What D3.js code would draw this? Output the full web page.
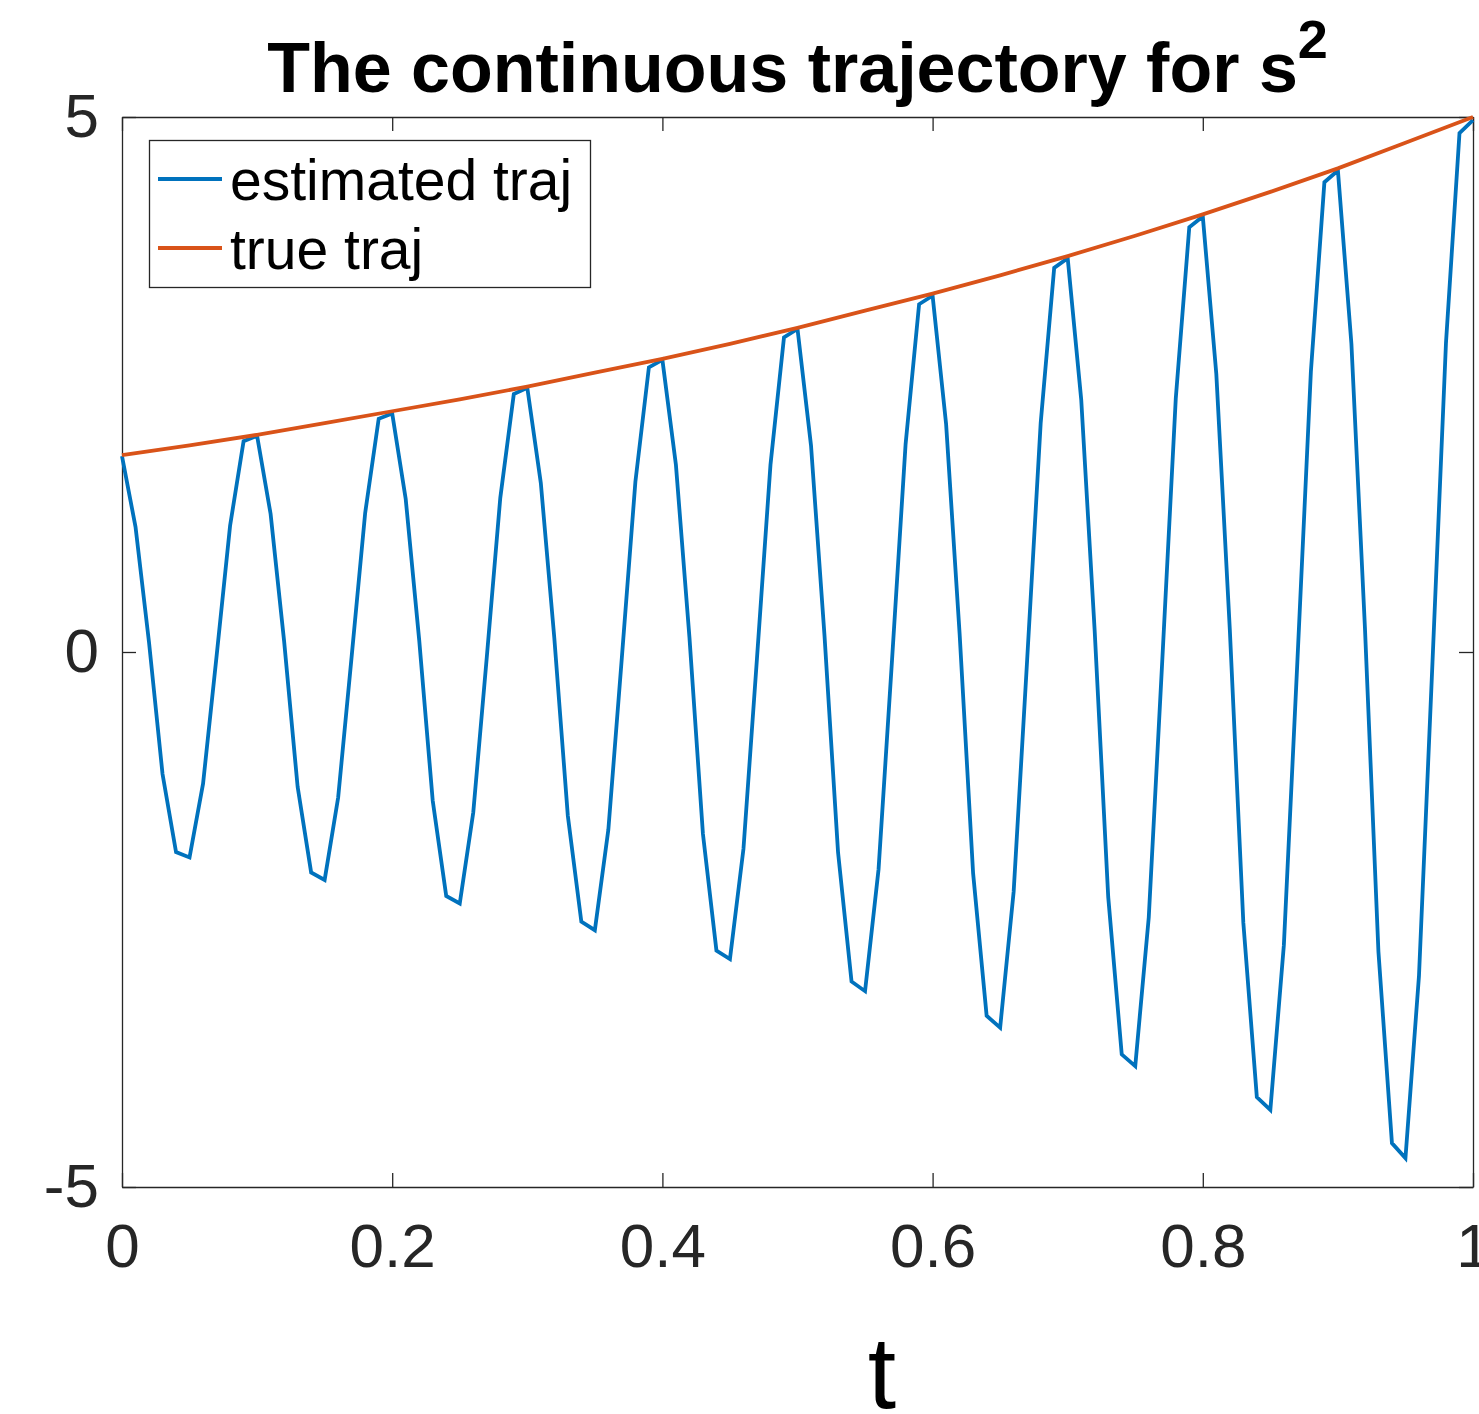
<!DOCTYPE html>
<html>
<head>
<meta charset="utf-8">
<script src="https://cdn.jsdelivr.net/npm/d3@7"></script>
<style>
  body { margin: 0; background: #fff; }
  svg { display: block; font-family: "Liberation Sans", Arial, Helvetica, sans-serif; }
</style>
</head>
<body>
<div class="canvas"></div>
<script>
// data
const tEst = d3.range(0, 101).map((i) => i / 100); // sample times, step 0.01
const estimated = [
  1.83, 1.17, 0.09, -1.14, -1.87, -1.92, -1.23, -0.04, 1.18, 1.97,
  2.02, 1.29, 0.10, -1.26, -2.06, -2.13, -1.36, -0.04, 1.30, 2.18,
  2.23, 1.43, 0.11, -1.39, -2.28, -2.35, -1.50, -0.05, 1.44, 2.41,
  2.47, 1.58, 0.13, -1.53, -2.52, -2.60, -1.66, -0.05, 1.59, 2.66,
  2.73, 1.75, 0.14, -1.70, -2.79, -2.87, -1.84, -0.06, 1.75, 2.94,
  3.02, 1.93, 0.15, -1.87, -3.08, -3.17, -2.03, -0.07, 1.94, 3.25,
  3.33, 2.13, 0.17, -2.07, -3.40, -3.51, -2.24, -0.07, 2.14, 3.59,
  3.68, 2.36, 0.19, -2.29, -3.76, -3.87, -2.48, -0.08, 2.37, 3.97,
  4.07, 2.60, 0.21, -2.53, -4.16, -4.28, -2.74, -0.09, 2.62, 4.39,
  4.50, 2.88, 0.23, -2.80, -4.59, -4.73, -3.03, -0.10, 2.89, 4.85,
  4.97
];
const tTrue = d3.range(0, 21).map((i) => i / 20); // step 0.05
const trueTraj = [
  1.84, 1.93, 2.03, 2.14, 2.25, 2.36, 2.48, 2.61, 2.74, 2.88,
  3.03, 3.19, 3.35, 3.52, 3.70, 3.89, 4.09, 4.30, 4.52, 4.76, 5.00
];
const xTicks = [0, 0.2, 0.4, 0.6, 0.8, 1];
const yTicks = [-5, 0, 5];
const legendNames = ["estimated traj", "true traj"];
const colours = ["#0072BD", "#D95319"];

const dims = { width: 1479, height: 1414 };
const plot = { left: 122, right: 1473, top: 117, bottom: 1187 };

const svg = d3
  .select(".canvas")
  .append("svg")
  .attr("width", dims.width)
  .attr("height", dims.height);

const x = d3.scaleLinear().domain([0, 1]).range([plot.left, plot.right]);
const y = d3.scaleLinear().domain([-5, 5]).range([plot.bottom, plot.top]);

const axisColour = "#262626";
const tickLen = 14;

// axes (ticks point inward, mirrored on top and right)
const styleAxis = (g) => {
  g.selectAll("path.domain").attr("stroke", axisColour).attr("stroke-width", 1.3);
  g.selectAll(".tick line").attr("stroke", axisColour).attr("stroke-width", 1.3);
  g.selectAll(".tick text")
    .attr("fill", axisColour)
    .attr("font-size", 62)
    .attr("font-family", "Liberation Sans, Arial, sans-serif");
};

svg.append("g")
  .attr("transform", `translate(0, ${plot.bottom})`)
  .call(d3.axisBottom(x).tickValues(xTicks).tickFormat(d3.format("")).tickSizeInner(-tickLen).tickSizeOuter(0).tickPadding(36))
  .call(styleAxis);

svg.append("g")
  .attr("transform", `translate(0, ${plot.top})`)
  .call(d3.axisTop(x).tickValues(xTicks).tickFormat("").tickSizeInner(-tickLen).tickSizeOuter(0))
  .call(styleAxis);

svg.append("g")
  .attr("transform", `translate(${plot.left}, 0)`)
  .call(d3.axisLeft(y).tickValues(yTicks).tickFormat(d3.format("")).tickSizeInner(-tickLen).tickSizeOuter(0).tickPadding(23))
  .call(styleAxis);

svg.append("g")
  .attr("transform", `translate(${plot.right}, 0)`)
  .call(d3.axisRight(y).tickValues(yTicks).tickFormat("").tickSizeInner(-tickLen).tickSizeOuter(0))
  .call(styleAxis);

// use a plain hyphen like the original for negative labels
svg.selectAll(".tick text").text(function () {
  return this.textContent.replace("\u2212", "-");
});

// lines
const line = d3.line().x((d) => x(d[0])).y((d) => y(d[1]));

svg.append("path")
  .datum(tEst.map((t, i) => [t, estimated[i]]))
  .attr("d", line)
  .attr("fill", "none")
  .attr("stroke", colours[0])
  .attr("stroke-width", 3.8)
  .attr("stroke-linejoin", "miter");

svg.append("path")
  .datum(tTrue.map((t, i) => [t, trueTraj[i]]))
  .attr("d", line)
  .attr("fill", "none")
  .attr("stroke", colours[1])
  .attr("stroke-width", 3.8);

// title
const title = svg.append("text")
  .attr("x", (plot.left + plot.right) / 2)
  .attr("y", 92)
  .attr("text-anchor", "middle")
  .attr("font-size", 70)
  .attr("font-weight", "bold")
  .attr("fill", "#000");
title.append("tspan").text("The continuous trajectory for s");
title.append("tspan").attr("font-size", 54).attr("dy", -34).text("2");

// x label
svg.append("text")
  .attr("x", 882)
  .attr("y", 1408)
  .attr("text-anchor", "middle")
  .attr("font-size", 102)
  .attr("fill", "#000")
  .text("t");

// legend
const legendGroup = svg.append("g");
legendGroup.append("rect")
  .attr("x", 149.5)
  .attr("y", 140.5)
  .attr("width", 441)
  .attr("height", 147)
  .attr("fill", "#fff")
  .attr("stroke", axisColour)
  .attr("stroke-width", 1.3);

legendNames.forEach((name, i) => {
  const ly = 179 + i * 69;
  legendGroup.append("line")
    .attr("x1", 158).attr("x2", 222)
    .attr("y1", ly).attr("y2", ly)
    .attr("stroke", colours[i])
    .attr("stroke-width", 3.8);
  legendGroup.append("text")
    .attr("x", 230)
    .attr("y", ly + 21)
    .attr("font-size", 57)
    .attr("fill", "#000")
    .text(name);
});
</script>
</body>
</html>
